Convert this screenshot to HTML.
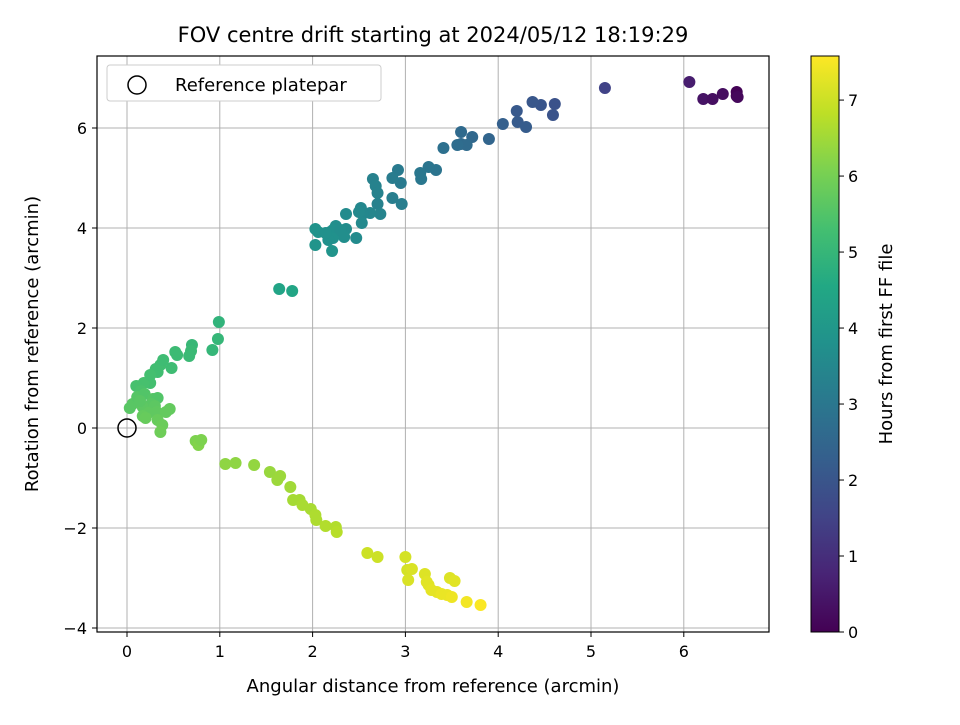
<!DOCTYPE html>
<html><head><meta charset="utf-8"><style>
body{margin:0;background:#fff}
svg text{font-family:"DejaVu Sans","Liberation Sans",sans-serif;fill:#000}
</style></head><body>
<svg id="chart" width="960" height="720" xmlns="http://www.w3.org/2000/svg">
<defs>
<linearGradient id="vir" x1="0" y1="1" x2="0" y2="0">
<stop offset="0" stop-color="#440154"/><stop offset="0.1" stop-color="#482475"/><stop offset="0.2" stop-color="#414487"/><stop offset="0.3" stop-color="#355f8d"/><stop offset="0.4" stop-color="#2a788e"/><stop offset="0.5" stop-color="#21918c"/><stop offset="0.6" stop-color="#22a884"/><stop offset="0.7" stop-color="#44bf70"/><stop offset="0.8" stop-color="#7ad151"/><stop offset="0.9" stop-color="#bddf26"/><stop offset="1" stop-color="#fde725"/>
</linearGradient>
</defs>
<text x="433" y="42" font-size="21" text-anchor="middle">FOV centre drift starting at 2024/05/12 18:19:29</text>
<g id="grid"></g>
<g id="pts"></g>
<rect x="97" y="56" width="672" height="576" fill="none" stroke="#000" stroke-width="1.2"/>
<g id="ticks"></g>
<text x="433" y="692" font-size="18" text-anchor="middle">Angular distance from reference (arcmin)</text>
<text transform="translate(38,344) rotate(-90)" font-size="18" text-anchor="middle">Rotation from reference (arcmin)</text>
<g>
<rect x="107" y="65" width="274" height="36" rx="3" fill="#fff" stroke="#ccc"/>
<circle cx="137" cy="85" r="9" fill="none" stroke="#000" stroke-width="1.5"/>
<text x="175" y="91" font-size="18">Reference platepar</text>
</g>
<rect x="811" y="56" width="28" height="576" fill="url(#vir)" stroke="#000" stroke-width="1"/>
<g id="cbticks"></g>
<text transform="translate(892,344) rotate(-90)" font-size="18" text-anchor="middle">Hours from first FF file</text>
</svg>
<script>
const xs=[6.06,6.21,6.31,6.42,6.57,6.57,6.58,5.15,4.61,4.46,4.59,4.37,4.21,4.20,4.30,4.05,3.90,3.60,3.72,3.60,3.66,3.56,3.41,3.33,3.17,3.25,3.16,2.92,2.95,2.86,2.96,2.86,2.70,2.65,2.68,2.70,2.73,2.62,2.54,2.52,2.53,2.50,2.36,2.47,2.36,2.34,2.25,2.22,2.19,2.22,2.17,2.06,2.03,2.21,2.03,2.14,2.30,1.64,1.78,0.99,0.98,0.92,0.70,0.69,0.67,0.54,0.52,0.48,0.33,0.31,0.36,0.39,0.25,0.18,0.10,0.15,0.25,0.06,0.03,0.11,0.19,0.28,0.33,0.26,0.30,0.17,0.23,0.32,0.46,0.42,0.17,0.20,0.33,0.38,0.36,0.14,0.74,0.77,0.80,1.06,1.17,1.37,1.54,1.62,1.65,1.76,1.79,1.86,1.89,1.98,2.03,2.04,2.14,2.25,2.26,2.59,2.70,3.00,3.02,3.03,3.07,3.21,3.23,3.25,3.28,3.34,3.39,3.45,3.50,3.48,3.53,3.66,3.81];
const ys=[6.92,6.58,6.58,6.68,6.64,6.72,6.62,6.80,6.48,6.46,6.26,6.52,6.12,6.34,6.02,6.08,5.78,5.68,5.82,5.92,5.66,5.66,5.60,5.16,4.98,5.22,5.10,5.16,4.90,5.00,4.48,4.60,4.48,4.98,4.84,4.70,4.28,4.30,4.28,4.40,4.10,4.32,4.28,3.80,3.98,3.82,4.04,3.96,3.92,3.80,3.76,3.92,3.98,3.54,3.66,3.90,3.96,2.78,2.74,2.12,1.78,1.56,1.66,1.54,1.44,1.46,1.52,1.20,1.12,1.18,1.26,1.36,0.90,0.90,0.84,0.74,1.06,0.48,0.40,0.62,0.68,0.58,0.60,0.48,0.44,0.42,0.30,0.32,0.38,0.32,0.24,0.20,0.16,0.06,-0.08,0.54,-0.26,-0.34,-0.24,-0.72,-0.70,-0.74,-0.88,-1.04,-0.96,-1.18,-1.44,-1.44,-1.54,-1.62,-1.74,-1.84,-1.96,-1.98,-2.08,-2.50,-2.58,-2.58,-2.84,-3.04,-2.82,-2.92,-3.08,-3.14,-3.24,-3.28,-3.32,-3.34,-3.38,-3.00,-3.06,-3.48,-3.54];
const hours=[0.6,0.4,0.3,0.25,0.1,0.05,0.15,1.5,1.9,2.0,1.95,2.05,2.15,2.1,2.2,2.3,2.45,2.6,2.55,2.6,2.65,2.7,2.8,2.9,3.0,2.95,3.0,3.1,3.1,3.15,3.2,3.2,3.3,3.3,3.35,3.35,3.4,3.45,3.5,3.5,3.55,3.55,3.6,3.6,3.65,3.7,3.7,3.75,3.75,3.8,3.8,3.85,3.85,3.9,3.9,3.8,3.7,4.4,4.45,4.9,5.0,5.0,5.05,5.1,5.1,5.15,5.15,5.2,5.25,5.25,5.25,5.2,5.3,5.35,5.35,5.4,5.3,5.6,5.6,5.55,5.5,5.55,5.5,5.6,5.65,5.65,5.7,5.7,5.75,5.75,5.75,5.8,5.8,5.85,5.9,5.6,6.1,6.15,6.1,6.3,6.3,6.35,6.4,6.45,6.45,6.5,6.55,6.55,6.6,6.6,6.65,6.65,6.7,6.7,6.75,7.0,7.0,7.1,7.1,7.15,7.15,7.2,7.25,7.25,7.3,7.3,7.35,7.35,7.4,7.2,7.25,7.45,7.55];
const xTicks=[0,1,2,3,4,5,6];
const yTicks=[-4,-2,0,2,4,6];
const cTicks=[0,1,2,3,4,5,6,7];
const NS="http://www.w3.org/2000/svg";
const X=v=>127+v*92.8, Y=v=>428-v*50;
const CMAX=7.58, C=v=>632-v/CMAX*576;
const vir=[[68,1,84],[72,36,117],[65,68,135],[53,95,141],[42,120,142],[33,145,140],[34,168,132],[68,191,112],[122,209,81],[189,223,38],[253,231,37]];
function col(h){let t=Math.max(0,Math.min(1,h/CMAX))*(vir.length-1);let i=Math.min(Math.floor(t),vir.length-2),f=t-i;const c=vir[i].map((a,k)=>Math.round(a+(vir[i+1][k]-a)*f));return `rgb(${c})`;}
function mk(tag,attrs,parent){const e=document.createElementNS(NS,tag);for(const k in attrs)e.setAttribute(k,attrs[k]);parent.appendChild(e);return e;}
const grid=document.getElementById('grid'),ticks=document.getElementById('ticks'),pts=document.getElementById('pts'),cb=document.getElementById('cbticks');
xTicks.forEach(v=>{
 const l=mk('line',{x1:X(v),x2:X(v),y1:56,y2:632,stroke:'#b0b0b0','stroke-width':1},grid);
 
 
 mk('line',{x1:X(v),x2:X(v),y1:632,y2:637,stroke:'#000'},ticks);
 const t=mk('text',{x:X(v),y:657,'font-size':16,'text-anchor':'middle'},ticks);t.textContent=v;
 
 
});
yTicks.forEach(v=>{
 const l=mk('line',{x1:97,x2:769,y1:Y(v),y2:Y(v),stroke:'#b0b0b0','stroke-width':1},grid);
 
 
 mk('line',{x1:92,x2:97,y1:Y(v),y2:Y(v),stroke:'#000'},ticks);
 const t=mk('text',{x:87,y:Y(v)+6,'font-size':16,'text-anchor':'end'},ticks);t.textContent=v<0?'\u2212'+(-v):v;
 
 
});
xs.forEach((x,i)=>{
 const c=mk('circle',{cx:X(x),cy:Y(ys[i]),r:6,fill:col(hours[i])},pts);
 
 
});
const ref=mk('circle',{cx:X(0),cy:Y(0),r:9,fill:'none',stroke:'#000','stroke-width':1.5},pts);


cTicks.forEach(v=>{
 mk('line',{x1:839,x2:844,y1:C(v),y2:C(v),stroke:'#000'},cb);
 const t=mk('text',{x:848,y:C(v)+6,'font-size':16},cb);t.textContent=v;
 
 
});
</script>
</body></html>
